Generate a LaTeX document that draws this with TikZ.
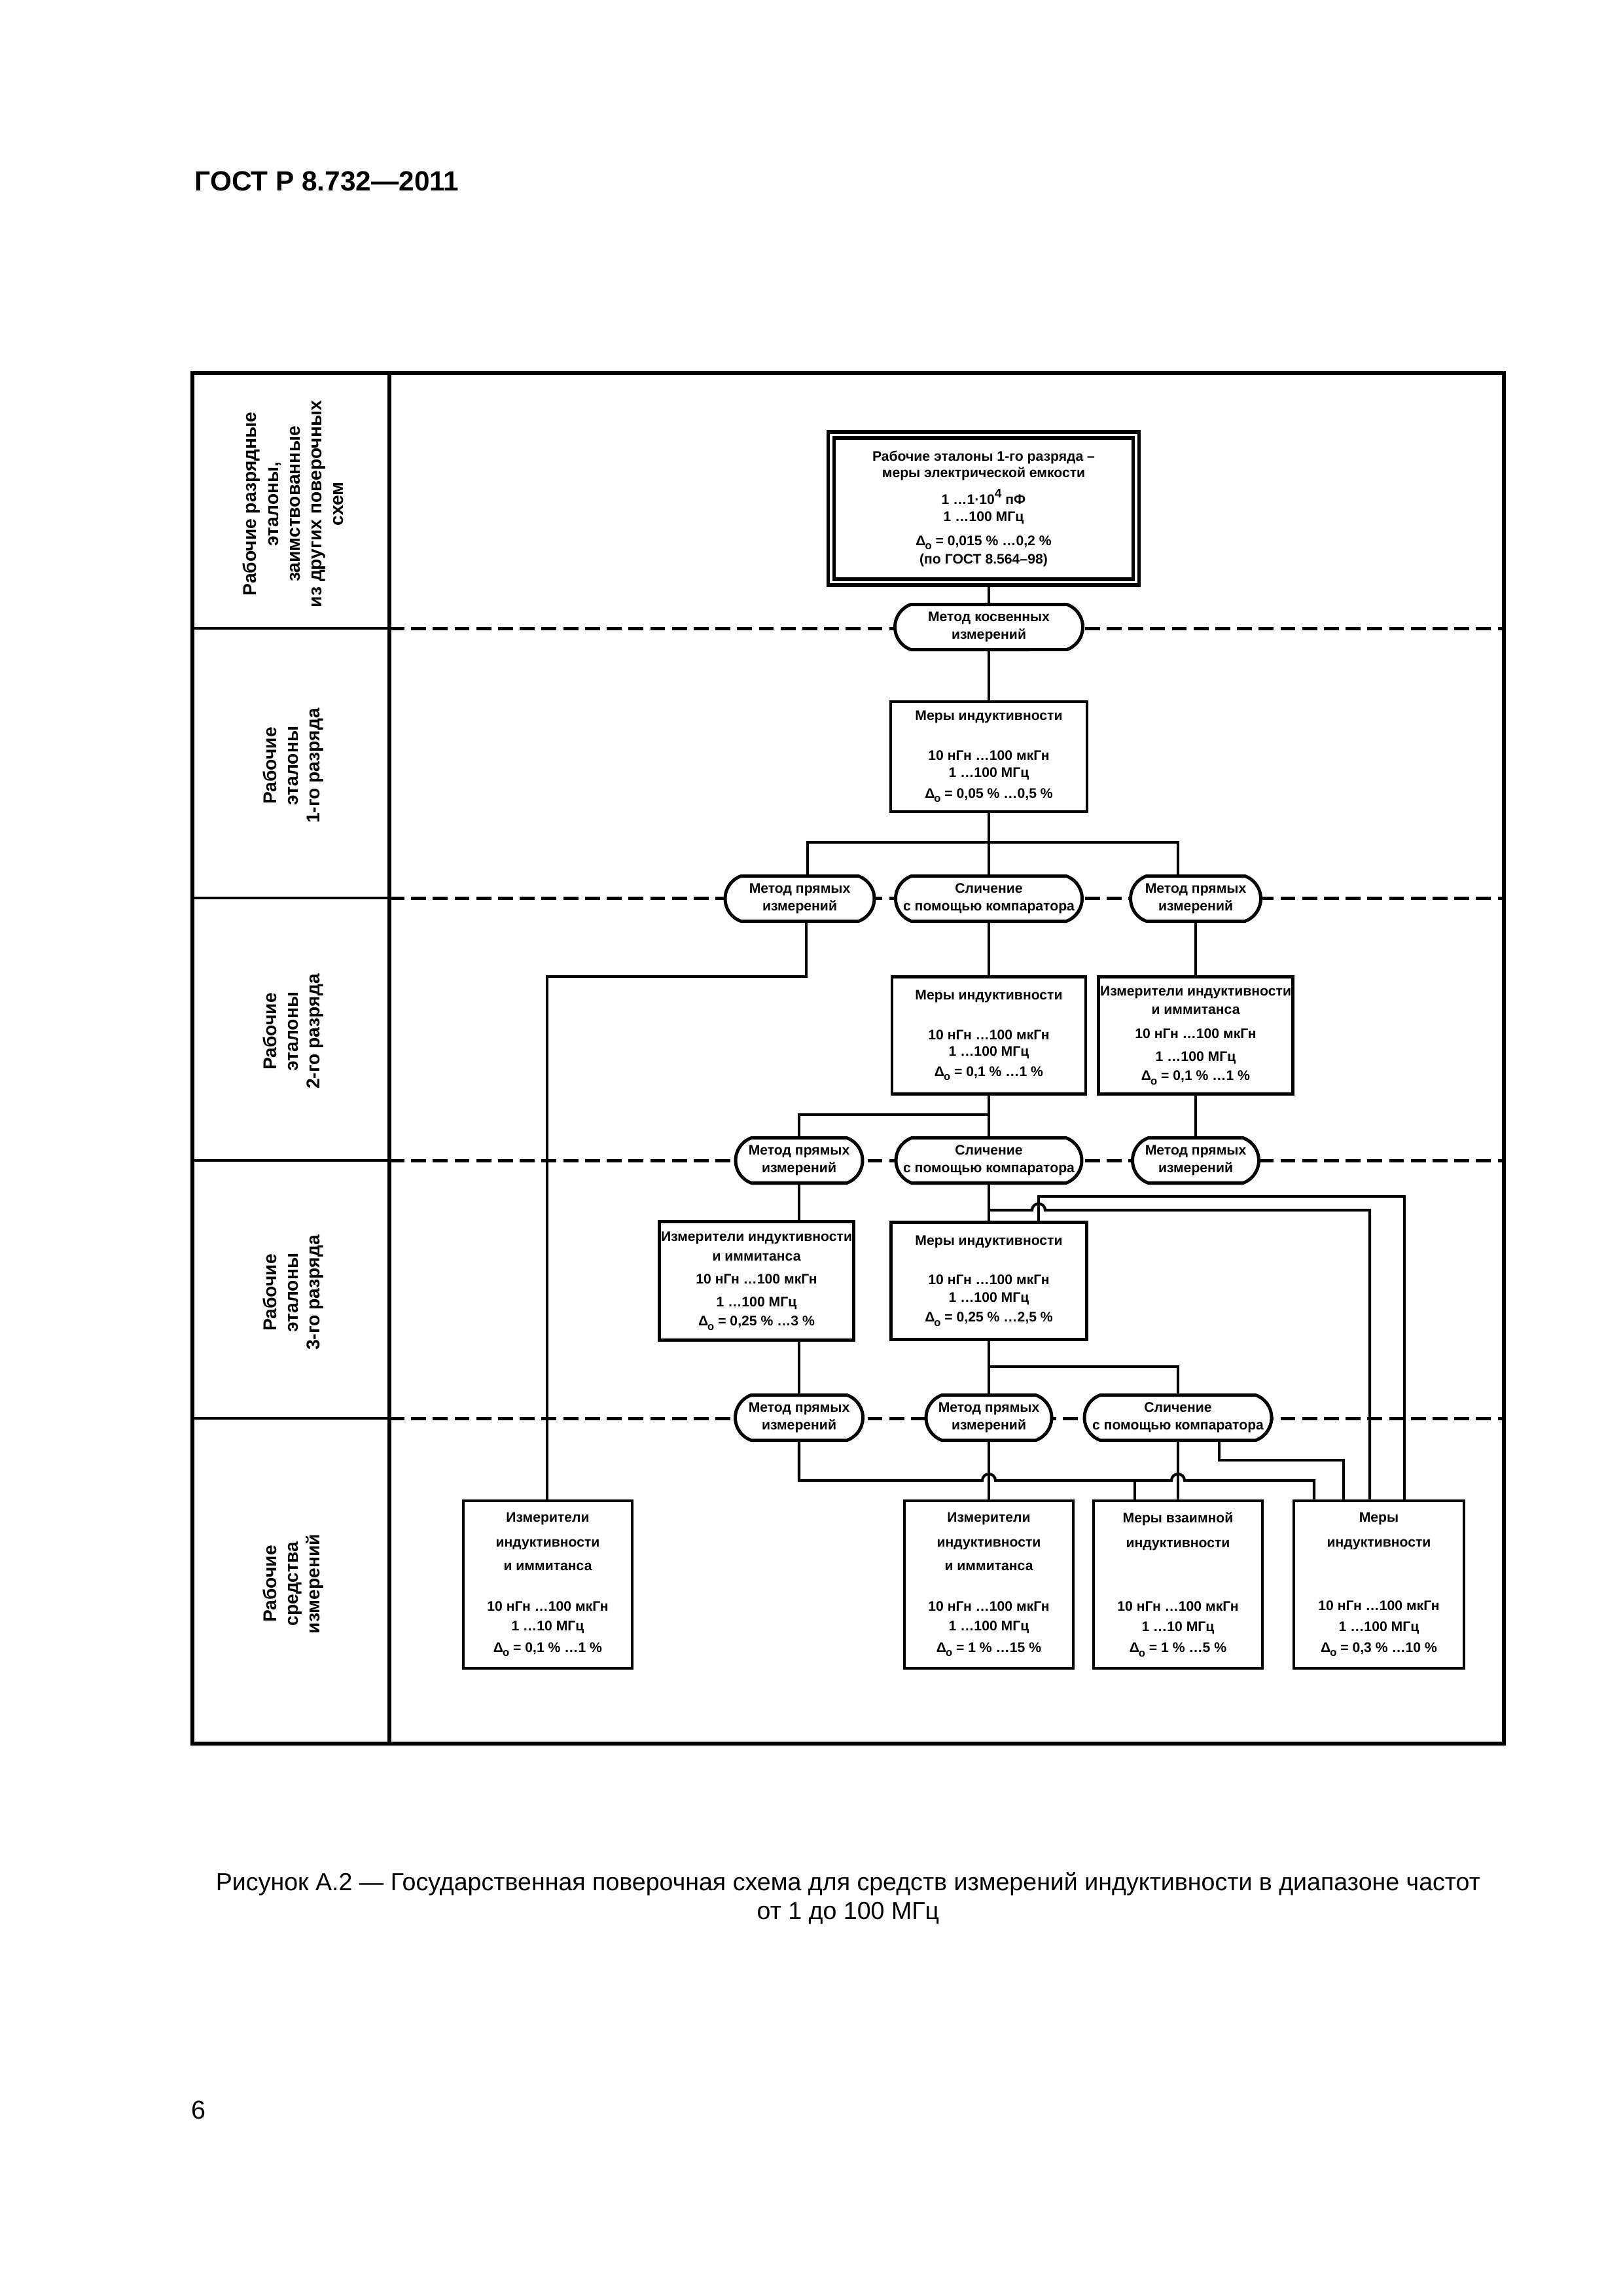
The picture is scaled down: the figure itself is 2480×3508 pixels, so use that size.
\documentclass[tikz,border=0pt]{standalone}
\usepackage{fontspec}
\setmainfont{Liberation Sans}
\usetikzlibrary{shapes.misc}
\newcommand{\pxu}{0.08467mm}
\newcommand{\dlto}{Δ\kern-0.05em\raisebox{-0.55ex}{\fontsize{4}{4}\selectfont о}}

\begin{document}
\begin{tikzpicture}[x=0.08467mm,y=-0.08467mm,
    etalon/.style={draw,line width=1.1pt,fill=white,align=center,inner sep=0pt,font=\fontsize{5.1}{6.2}\selectfont\bfseries},
    metod/.style={draw,rounded rectangle,rounded rectangle arc length=140,line width=1.2pt,fill=white,align=center,inner sep=0pt,minimum height=69*\pxu,font=\fontsize{5.1}{6.4}\selectfont\bfseries},
    granica/.style={line width=1.2pt,dash pattern=on 5.5pt off 2.5pt},
    razryad/.style={rotate=90,align=center,font=\fontsize{6.8}{8}\selectfont\bfseries},
    svyaz/.style={line width=1pt}]
  \useasboundingbox (0,0) rectangle (2480,3508);
  \node[anchor=west,inner sep=0pt,font=\fontsize{10.2}{12}\selectfont\bfseries] (gost) at (297,277) {ГОСТ Р 8.732—2011};
  % frame and rows
  \draw[line width=1.45pt] (294,570) rectangle (2298,2664);
  \draw[line width=1.45pt] (595,570) -- (595,2664);
  \foreach \y in {960,1372,1773,2167}{
    \draw[line width=1.1pt] (294,\y) -- (595,\y);
    \draw[granica] (595,\y) -- (2298,\y);
  }
  \node[razryad] (r0) at (448,770) {Рабочие разрядные\\эталоны,\\заимствованные\\из других поверочных\\схем};
  \node[razryad] (r1) at (448,1170) {Рабочие\\эталоны\\1-го разряда};
  \node[razryad] (r2) at (448,1576) {Рабочие\\эталоны\\2-го разряда};
  \node[razryad] (r3) at (448,1975) {Рабочие\\эталоны\\3-го разряда};
  \node[razryad] (r4) at (448,2420) {Рабочие\\средства\\измерений};
  % standards and methods
  \node[etalon,double,line width=1.3pt,double distance=0.9pt,minimum width=466*\pxu,minimum height=225*\pxu] (top) at (1503,777)
    {Рабочие эталоны 1-го разряда –\\меры электрической емкости\\[2.2pt]1 …1·10\raisebox{0.9ex}{\fontsize{4.6}{5}\selectfont 4} пФ\\1 …100 МГц\\[2.7pt]\dlto{} = 0,015 \% …0,2 \%\\[0.5pt](по ГОСТ 8.564–98)};
  \node[metod,minimum width=287*\pxu] (s0) at (1511,958) {Метод косвенных\\измерений};
  \node[etalon,minimum width=300*\pxu,minimum height=168*\pxu] (b1) at (1511,1156)
    {Меры индуктивности\\[8.4pt]10 нГн …100 мкГн\\1 …100 МГц\\[1.5pt]\dlto{} = 0,05 \% …0,5 \%};
  \node[metod,minimum width=228*\pxu] (s1a) at (1222,1373) {Метод прямых\\измерений};
  \node[metod,minimum width=285*\pxu] (s1b) at (1511,1373) {Сличение\\с помощью компаратора};
  \node[metod,minimum width=199*\pxu] (s1c) at (1827,1373) {Метод прямых\\измерений};
  \node[etalon,minimum width=296*\pxu,minimum height=179*\pxu] (b2a) at (1511,1582)
    {Меры индуктивности\\[8.4pt]10 нГн …100 мкГн\\1 …100 МГц\\[1.2pt]\dlto{} = 0,1 \% …1 \%};
  \node[etalon,minimum width=297*\pxu,minimum height=179*\pxu] (b2b) at (1827,1582)
    {Измерители индуктивности\\[0.5pt]и иммитанса\\[2.7pt]10 нГн …100 мкГн\\[2.2pt]1 …100 МГц\\[1pt]\dlto{} = 0,1 \% …1 \%};
  \node[metod,minimum width=194*\pxu] (s2a) at (1221,1773) {Метод прямых\\измерений};
  \node[metod,minimum width=284*\pxu] (s2b) at (1511,1773) {Сличение\\с помощью компаратора};
  \node[metod,minimum width=193*\pxu] (s2c) at (1827,1773) {Метод прямых\\измерений};
  \node[etalon,minimum width=297*\pxu,minimum height=181*\pxu] (b3a) at (1156,1957)
    {Измерители индуктивности\\[1pt]и иммитанса\\[2.2pt]10 нГн …100 мкГн\\[2.2pt]1 …100 МГц\\[1pt]\dlto{} = 0,25 \% …3 \%};
  \node[etalon,minimum width=299*\pxu,minimum height=179*\pxu] (b3b) at (1511,1957)
    {Меры индуктивности\\[8.2pt]10 нГн …100 мкГн\\[0.3pt]1 …100 МГц\\[1.2pt]\dlto{} = 0,25 \% …2,5 \%};
  \node[metod,minimum width=195*\pxu] (s3a) at (1221,2166) {Метод прямых\\измерений};
  \node[metod,minimum width=192*\pxu] (s3b) at (1511,2166) {Метод прямых\\измерений};
  \node[metod,minimum width=286*\pxu] (s3c) at (1800,2166) {Сличение\\с помощью компаратора};
  \node[etalon,minimum width=258*\pxu,minimum height=256*\pxu] (b4a) at (837,2421)
    {Измерители\\[2.9pt]индуктивности\\[2.4pt]и иммитанса\\[8.7pt]10 нГн …100 мкГн\\[1.2pt]1 …10 МГц\\[1.7pt]\dlto{} = 0,1 \% …1 \%};
  \node[etalon,minimum width=258*\pxu,minimum height=256*\pxu] (b4b) at (1511,2421)
    {Измерители\\[2.9pt]индуктивности\\[2.4pt]и иммитанса\\[8.7pt]10 нГн …100 мкГн\\[1.2pt]1 …100 МГц\\[1.7pt]\dlto{} = 1 \% …15 \%};
  \node[etalon,minimum width=258*\pxu,minimum height=256*\pxu] (b4c) at (1800,2421)
    {Меры взаимной\\[2.9pt]индуктивности\\[17.1pt]10 нГн …100 мкГн\\[1.5pt]1 …10 МГц\\[1.5pt]\dlto{} = 1 \% …5 \%};
  \node[etalon,minimum width=260*\pxu,minimum height=256*\pxu] (b4d) at (2107,2421)
    {Меры\\[2.9pt]индуктивности\\[17.1pt]10 нГн …100 мкГн\\[1.5pt]1 …100 МГц\\[1.5pt]\dlto{} = 0,3 \% …10 \%};
  % connections
  \coordinate (bus1l) at (1234,1287);
  \coordinate (bus1r) at (1800,1287);
  \coordinate (c1) at (1232,1492);
  \coordinate (c2) at (836,1492);
  \coordinate (c3) at (1221,1703);
  \coordinate (c4) at (1587,1828);
  \coordinate (c5) at (2146,1828);
  \coordinate (h1) at (1587,1849);
  \coordinate (c6) at (2093,1849);
  \coordinate (c7) at (1800,2088);
  \coordinate (c8) at (1221,2262);
  \coordinate (h2) at (1511,2262);
  \coordinate (h3) at (1800,2262);
  \coordinate (c9) at (2008,2262);
  \coordinate (c10) at (1734,2262);
  \coordinate (c11) at (1863,2231);
  \coordinate (c12) at (2053,2231);
  \draw[svyaz] (s0.north |- top.south) -- (s0.north);
  \draw[svyaz] (s0.south) -- (b1.north);
  \draw[svyaz] (b1.south) -- (s1b.north);
  \draw[svyaz] (s1a.north -| bus1l) -- (bus1l) -- (bus1r) -- (s1c.north -| bus1r);
  \draw[svyaz] (s1a.south -| c1) -- (c1) -- (c2) -- (b4a.north -| c2);
  \draw[svyaz] (s1b.south) -- (b2a.north);
  \draw[svyaz] (s1c.south) -- (b2b.north);
  \draw[svyaz] (b2a.south) -- (s2b.north);
  \draw[svyaz] (b2a.south |- c3) -- (c3) -- (s2a.north);
  \draw[svyaz] (b2b.south) -- (s2c.north);
  \draw[svyaz] (s2a.south) -- (s2a.south |- b3a.north);
  \draw[svyaz] (s2b.south) -- (b3b.north);
  \draw[svyaz] (c4 |- b3b.north) -- (c4) -- (c5) -- (c5 |- b4d.north);
  \draw[svyaz] (s2b.south |- h1) -- ([xshift=-10*\pxu]h1) arc[start angle=180,end angle=0,radius=10*\pxu] -- (c6) -- (c6 |- b4d.north);
  \draw[svyaz] (b3a.south -| s2a.south) -- (s3a.north);
  \draw[svyaz] (b3b.south) -- (s3b.north);
  \draw[svyaz] (b3b.south |- c7) -- (c7) -- (s3c.north);
  \draw[svyaz] (s3a.south) -- (c8) -- ([xshift=-10*\pxu]h2) arc[start angle=180,end angle=0,radius=10*\pxu]
    -- ([xshift=-10*\pxu]h3) arc[start angle=180,end angle=0,radius=10*\pxu] -- (c9) -- (c9 |- b4d.north);
  \draw[svyaz] (c10) -- (c10 |- b4c.north);
  \draw[svyaz] (s3b.south) -- (b4b.north);
  \draw[svyaz] (s3c.south) -- (b4c.north);
  \draw[svyaz] (c11 |- s3c.south) -- (c11) -- (c12) -- (c12 |- b4d.north);
  % caption
  \node[align=center,font=\fontsize{9.05}{10.6}\selectfont] (caption) at (1296,2900)
    {Рисунок А.2 — Государственная поверочная схема для средств измерений индуктивности в диапазоне частот\\от 1 до 100 МГц};
  \node[font=\fontsize{9.5}{11}\selectfont] (page) at (303,3224) {6};
\end{tikzpicture}
\end{document}
